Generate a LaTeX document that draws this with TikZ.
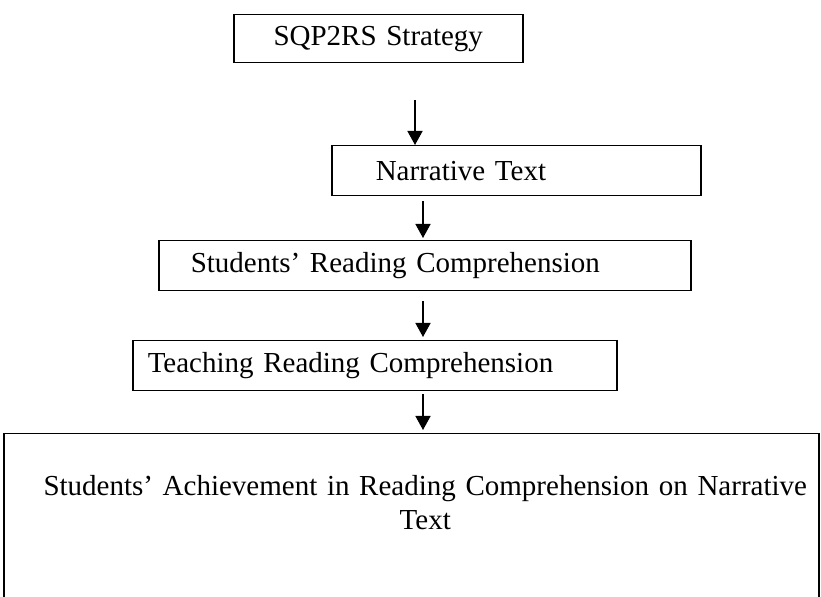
\documentclass[tikz,border=0pt]{standalone}
\usepackage{fontspec}
\setmainfont{Liberation Serif}
\usetikzlibrary{arrows.meta}
\tikzset{
	box/.style={draw, line width=0.75pt, anchor=north west, inner ysep=0pt, minimum height=24pt, font=\fontsize{14.5}{17}\selectfont},
	arr/.style={line width=0.75pt, -{Triangle[width=7.5pt,length=7pt]}}
}
\begin{document}
\begin{tikzpicture}[x=0.5pt,y=-0.5pt]
	\useasboundingbox (0,0) rectangle (821,597);
	% Boxes, top to bottom
	\node[box, text width=134.5pt, inner xsep=5pt, align=center] (strat) at (233,14) {SQP2RS Strategy};
	\node[box, text width=140.5pt, inner xsep=22pt, align=left, minimum height=25pt] (narr) at (331,145) {Narrative Text};
	\node[box, text width=234pt, inner xsep=16pt, align=left, minimum height=25pt] (studs) at (158,240) {Students' Reading Comprehension};
	\node[box, text width=227pt, inner xsep=7.5pt, align=left, minimum height=25pt] (teach) at (132,340) {Teaching Reading Comprehension};
	\node[box, text width=400pt, inner xsep=3.75pt, inner ysep=21pt, align=center, text depth=62.5pt] (achieve) at (3,433)
		{\hspace*{14pt}Students' Achievement in Reading Comprehension on Narrative\\\hspace*{14pt}Text};
	% Arrows
	\coordinate (start) at (415,100);
	\coordinate (axis) at (423,0);
	\draw[arr] (start) -- (start |- narr.north);
	\foreach \a/\b/\s/\e in {narr/studs/2.5/1, studs/teach/5/1.5, teach/achieve/1.5/1.5}
		\draw[arr, shorten <=\s pt, shorten >=\e pt] (\a.south -| axis) -- (\b.north -| axis);
\end{tikzpicture}
\end{document}
